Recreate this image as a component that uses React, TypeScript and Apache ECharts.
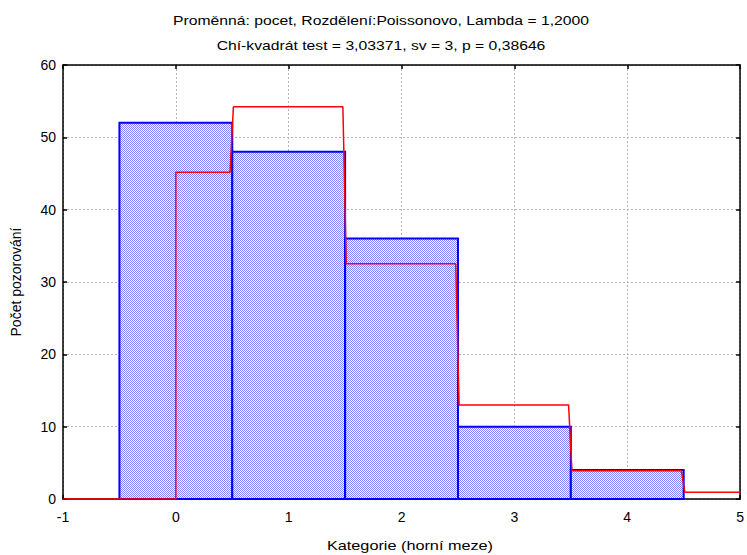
import React, { useEffect, useRef } from "react";
import * as echarts from "echarts";

const categories = [0, 1, 2, 3, 4];
const observed = [52, 48, 36, 10, 4];
const expected = [45.18, 54.22, 32.53, 13.01, 3.9, 0.94];
const xTicks = [-1, 0, 1, 2, 3, 4, 5];
const yTicks = [0, 10, 20, 30, 40, 50, 60];
const titleLines = [
  "Proměnná: pocet, Rozdělení:Poissonovo, Lambda = 1,2000",
  "Chí-kvadrát test = 3,03371, sv = 3, p = 0,38646",
];
const xName = "Kategorie (horní meze)";
const yName = "Počet pozorování";

export default function App() {
  const ref = useRef<HTMLDivElement>(null);
  useEffect(() => {
    document.body.style.margin = "0";
    if (!ref.current) return;
    const chart = echarts.init(ref.current, null, { renderer: "svg" });

    const cv = document.createElement("canvas");
    cv.width = 2;
    cv.height = 2;
    const ctx = cv.getContext("2d");
    if (ctx) {
      ctx.fillStyle = "#ffffff";
      ctx.fillRect(0, 0, 2, 2);
      ctx.fillStyle = "#7e7eff";
      ctx.fillRect(0, 0, 1, 1);
      ctx.fillRect(1, 1, 1, 1);
    }
    const pattern: any = { image: cv, repeat: "repeat" };

    const linePts: number[][] = [
      [xTicks[0], 0],
      [categories[0], 0],
      [categories[0], expected[0]],
    ];
    for (let i = 0; i < expected.length - 1; i++) {
      linePts.push([categories[i] + 0.48, expected[i]]);
      linePts.push([categories[i] + 0.51, expected[i + 1]]);
    }
    linePts.push([xTicks[xTicks.length - 1], expected[expected.length - 1]]);

    const font = "Liberation Sans, Arial, sans-serif";
    const axisCommon = {
      type: "value" as const,
      axisLine: { show: true, onZero: false, lineStyle: { color: "#000", width: 1.5 } },
      axisTick: { show: true, inside: true, length: 4, lineStyle: { color: "#000", width: 1.5 } },
    };
    const txt = (text: string, x: number, y: number, sx: number) => ({
      type: "text",
      x,
      y,
      scaleX: sx,
      style: {
        text,
        fontFamily: font,
        fontSize: 13,
        fill: "#000",
        align: "center",
        verticalAlign: "middle",
      },
    });

    chart.setOption({
      animation: false,
      graphic: [
        txt(titleLines[0], 381, 20, 1.21),
        txt(titleLines[1], 381, 45, 1.21),
        txt(xName, 410, 546, 1.25),
      ],
      grid: { left: 63, right: 2, top: 65, bottom: 56, containLabel: false },
      xAxis: [
        {
          ...axisCommon,
          min: xTicks[0],
          max: xTicks[xTicks.length - 1],
          interval: 1,
          position: "bottom",
          axisLabel: { fontFamily: font, fontSize: 14, color: "#000", margin: 11 },
          splitLine: { show: true, lineStyle: { color: "#b4b4b4", type: [2, 2], width: 1 } },
        },
        {
          ...axisCommon,
          min: xTicks[0],
          max: xTicks[xTicks.length - 1],
          interval: 1,
          position: "top",
          axisLabel: { show: false },
          splitLine: { show: false },
        },
      ],
      yAxis: [
        {
          ...axisCommon,
          min: yTicks[0],
          max: yTicks[yTicks.length - 1],
          interval: 10,
          position: "left",
          name: yName,
          nameLocation: "middle",
          nameGap: 40,
          nameTextStyle: { fontFamily: font, fontSize: 14, color: "#000" },
          axisLabel: { fontFamily: font, fontSize: 14, color: "#000", margin: 7 },
          splitLine: { show: true, lineStyle: { color: "#b4b4b4", type: [2, 2], width: 1 } },
        },
        {
          ...axisCommon,
          min: yTicks[0],
          max: yTicks[yTicks.length - 1],
          interval: 10,
          position: "right",
          axisLabel: { show: false },
          splitLine: { show: false },
        },
      ],
      series: [
        {
          type: "custom",
          xAxisIndex: 0,
          yAxisIndex: 0,
          data: categories.map((c, i) => [c, observed[i]]),
          renderItem: (params: any, api: any) => {
            const x = api.value(0);
            const y = api.value(1);
            const p1 = api.coord([x - 0.5, y]);
            const p2 = api.coord([x + 0.5, 0]);
            return {
              type: "rect",
              shape: { x: p1[0], y: p1[1], width: p2[0] - p1[0], height: p2[1] - p1[1] },
              style: { fill: pattern, stroke: "#0000ff", lineWidth: 2 },
            };
          },
          z: 2,
        },
        {
          type: "line",
          xAxisIndex: 0,
          yAxisIndex: 0,
          data: linePts,
          showSymbol: false,
          symbol: "none",
          lineStyle: { color: "#ff0000", width: 1.5 },
          z: 3,
        },
      ],
    });
    return () => chart.dispose();
  }, []);
  return <div ref={ref} style={{ width: 747, height: 555 }} />;
}
